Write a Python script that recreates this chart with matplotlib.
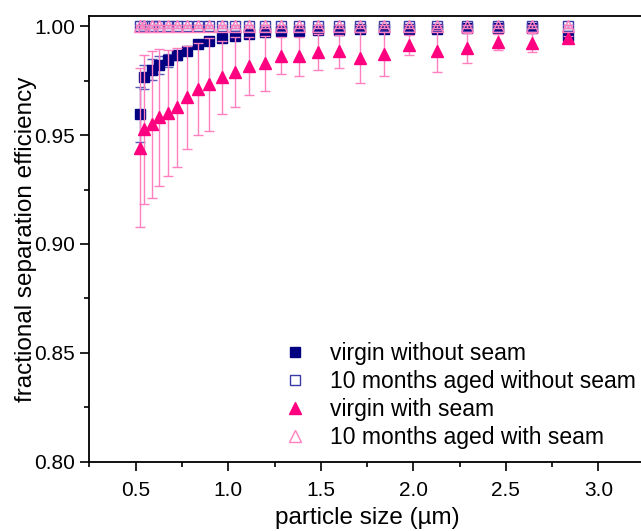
import matplotlib
matplotlib.use("Agg")
import matplotlib.pyplot as plt
from matplotlib.lines import Line2D
from matplotlib.ticker import MultipleLocator

plt.rcParams["font.family"] = ["Liberation Sans", "DejaVu Sans"]

# particle size channels (µm)
particle_size = [0.523, 0.543, 0.586, 0.627, 0.676, 0.725, 0.779, 0.837, 0.898, 0.966,
                 1.038, 1.114, 1.196, 1.285, 1.384, 1.487, 1.597, 1.713, 1.840, 1.978,
                 2.128, 2.288, 2.457, 2.641, 2.837]

virgin_no_seam = [0.9595, 0.9766, 0.9801, 0.9821, 0.9843, 0.9866, 0.9888, 0.9917, 0.9932, 0.9946,
                  0.9957, 0.9966, 0.9974, 0.9978, 0.9980, 0.9982, 0.9984, 0.9985, 0.9986, 0.9988,
                  0.9989, 0.9990, 0.9990, 0.9990, 0.9955]
virgin_no_seam_err = [0.0125, 0.0055, 0.0050, 0.0040, 0.0030, 0.0022, 0.0018, 0.0014, 0.0012, 0.0010,
                      0.0009, 0.0008, 0.0007, 0.0006, 0.0006, 0.0005, 0.0005, 0.0005, 0.0005, 0.0004,
                      0.0004, 0.0004, 0.0004, 0.0004, 0.0010]

aged_no_seam = [1.0] * 25
aged_no_seam_err = [0.0006] * 25

virgin_seam = [0.9442, 0.9526, 0.9549, 0.9581, 0.9602, 0.9627, 0.9673, 0.9712, 0.9733, 0.9765,
               0.9790, 0.9817, 0.9829, 0.9864, 0.9861, 0.9881, 0.9884, 0.9856, 0.9873, 0.9913,
               0.9886, 0.9900, 0.9928, 0.9925, 0.9944]
virgin_seam_err = [0.0365, 0.0342, 0.0337, 0.0316, 0.0289, 0.0275, 0.0236, 0.0212, 0.0215, 0.0169,
                   0.0160, 0.0132, 0.0126, 0.0085, 0.0089, 0.0081, 0.0075, 0.0116, 0.0103, 0.0047,
                   0.0096, 0.0070, 0.0038, 0.0045, 0.0010]

aged_seam = [1.0] * 25
aged_seam_err = [0.0006] * 25

labels = ["virgin without seam", "10 months aged without seam",
          "virgin with seam", "10 months aged with seam"]

NAVY = "#000080"
NAVY_OPEN = "#3a3aa8"
NAVY_LIGHT = "#5a5ab8"
PINK = "#ff0080"
PINK_LIGHT = "#ff7fbf"

fig = plt.figure(figsize=(6.41, 5.31), dpi=100)
ax = fig.add_axes([0.1396, 0.1305, 0.8662, 0.8394])

ax.errorbar(particle_size, virgin_no_seam, yerr=virgin_no_seam_err, fmt="s",
            ms=6.5, color=NAVY, mec=NAVY, ecolor=NAVY_LIGHT, elinewidth=1,
            capsize=3.5, capthick=1, zorder=3)
ax.errorbar(particle_size, virgin_seam, yerr=virgin_seam_err, fmt="^",
            ms=9, color=PINK, mec=PINK, ecolor=PINK_LIGHT, elinewidth=1,
            capsize=3.5, capthick=1, zorder=4)
ax.errorbar(particle_size, aged_no_seam, yerr=aged_no_seam_err, fmt="s",
            ms=7.5, mfc="none", mec=NAVY_OPEN, mew=1, ecolor=NAVY_LIGHT,
            elinewidth=1, capsize=3.5, capthick=1, zorder=5)
ax.errorbar(particle_size, aged_seam, yerr=aged_seam_err, fmt="^",
            ms=8, mfc="none", mec=PINK_LIGHT, mew=1, ecolor=PINK_LIGHT,
            elinewidth=1, capsize=3.5, capthick=1, zorder=6)

ax.set_xlim(0.25, 3.25)
ax.set_ylim(0.80, 1.0047)
ax.xaxis.set_major_locator(MultipleLocator(0.5))
ax.xaxis.set_minor_locator(MultipleLocator(0.25))
ax.yaxis.set_major_locator(MultipleLocator(0.05))
ax.yaxis.set_minor_locator(MultipleLocator(0.025))
ax.yaxis.set_major_formatter(plt.FormatStrFormatter("%.2f"))
ax.xaxis.set_major_formatter(plt.FormatStrFormatter("%.1f"))
ax.tick_params(which="major", direction="out", length=6.5, width=1.2, labelsize=15, pad=4)
ax.tick_params(which="minor", direction="out", length=3.6, width=1.2)
ax.tick_params(axis="x", which="major", pad=7.5)
for s in ax.spines.values():
    s.set_linewidth(1.3)

ax.set_xlabel("particle size (µm)", fontsize=17.5, labelpad=5)
ax.set_ylabel("fractional separation efficiency", fontsize=17.5, labelpad=-2)

# legend handles without error bars
handles = [
    Line2D([], [], ls="none", marker="s", ms=6.5, color=NAVY, mec=NAVY),
    Line2D([], [], ls="none", marker="s", ms=7, mfc="none", mec=NAVY_OPEN, mew=1),
    Line2D([], [], ls="none", marker="^", ms=8.5, color=PINK, mec=PINK),
    Line2D([], [], ls="none", marker="^", ms=8, mfc="none", mec=PINK_LIGHT, mew=1),
]
ax.legend(handles, labels, loc="center left", bbox_to_anchor=(0.350, 0.148),
          frameon=False, fontsize=16.5, handlelength=1.0, handletextpad=1.03,
          labelspacing=0.22, borderpad=0, borderaxespad=0)

fig.savefig("out.png", dpi=100)
